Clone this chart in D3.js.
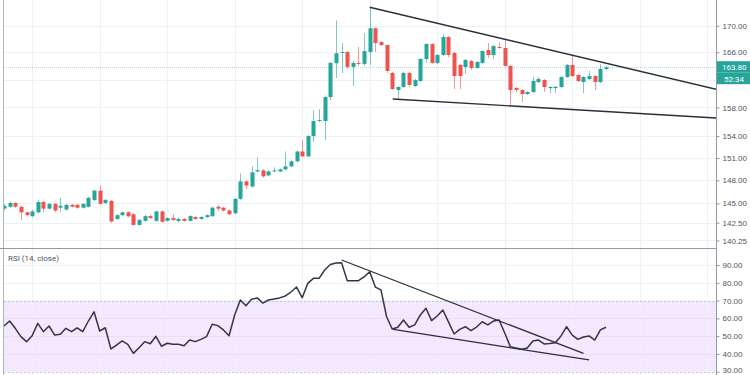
<!DOCTYPE html>
<html>
<head>
<meta charset="utf-8">
<script src="https://cdn.jsdelivr.net/npm/d3@7"></script>
<style>
  body { margin: 0; background: #fff; }
  svg { display: block; font-family: Roboto, "DejaVu Sans", sans-serif; }
  .axis text { fill: #50535e; font-size: 8px; }
  .axis line { stroke: #9598a1; }
  .axis path { display: none; }
</style>
</head>
<body>
<svg id="chart" width="750" height="375"></svg>
<script>
// candles, one per bar
const opens = [144.31,144.55,145.04,144.55,143.83,143.33,143.83,145.17,144.31,144.92,
  144.43,144.2,144.8,144.8,144.43,144.55,145.44,146.65,145.04,145.31,
  142.98,143.47,143.83,143.59,142.22,142.74,143.35,142.74,143.95,142.74,
  143.1,142.74,142.98,142.74,143.22,142.98,143.22,143.35,144.55,144.43,
  144.07,143.71,145.58,147.87,147.19,149.2,149.34,148.67,149.2,149.2,
  149.48,149.88,150.56,151.89,151.23,154.0,156.09,156.09,159.48,164.38,
  165.9,166.05,163.84,164.43,164.28,166.05,169.61,167.53,167.08,162.96,
  160.49,160.92,162.96,161.06,161.78,165.01,167.23,164.43,165.6,168.29,
  165.9,164.13,163.84,164.72,163.69,164.43,166.34,165.6,166.79,166.64,
  163.99,160.78,160.49,159.91,160.2,161.64,161.93,160.78,160.78,160.92,
  162.37,164.13,162.66,161.64,162.07,162.51,161.64,163.54];
const highs = [144.92,145.21,145.17,144.67,143.95,144.2,145.44,145.3,145.04,145.04,
  145.71,144.95,144.9,144.95,145.0,145.85,146.8,147.33,145.55,145.44,
  143.6,143.95,143.95,143.7,142.98,143.47,143.47,144.07,144.07,143.22,
  143.59,143.1,143.1,143.47,143.35,143.35,143.59,144.55,144.8,144.55,
  144.2,145.7,148.94,148.0,149.88,151.09,149.5,149.34,149.75,149.6,
  151.89,150.7,152.0,153.47,154.14,157.62,157.76,159.7,164.6,170.8,
  167.38,166.2,164.7,166.79,168.87,172.83,169.75,167.67,167.2,163.1,
  161.06,163.1,163.1,162.07,165.15,167.38,167.38,165.75,168.74,168.42,
  166.05,164.3,165.01,164.87,164.72,166.27,167.38,167.07,167.53,167.83,
  164.13,160.92,160.63,160.34,162.37,162.37,162.07,161.06,161.1,162.5,
  164.28,165.6,162.81,162.51,163.25,162.66,164.28,164.0];
const lows = [144.07,144.43,144.43,142.86,143.33,143.2,143.7,143.83,144.2,143.83,
  143.83,144.0,144.45,144.3,144.3,144.45,145.3,144.8,144.92,142.5,
  142.86,143.35,143.2,142.1,142.1,142.6,143.0,142.6,142.5,142.62,
  142.74,142.5,142.62,142.62,142.86,142.86,143.1,143.22,143.95,143.95,
  143.47,143.59,145.44,146.92,147.06,149.08,148.36,148.54,149.08,149.08,
  149.34,149.75,150.4,151.09,151.09,153.21,155.9,153.47,159.05,162.22,
  162.96,163.54,161.06,164.0,164.0,164.13,166.05,166.94,163.0,160.5,
  159.19,160.78,160.92,160.92,161.64,164.43,164.28,164.28,165.45,165.3,
  160.63,160.63,162.81,163.4,163.54,164.28,165.16,165.01,166.54,163.84,
  158.19,160.2,158.76,159.76,160.05,161.5,160.2,160.05,160.05,160.78,
  162.22,162.37,161.64,160.05,161.93,160.49,161.5,163.4];
const closes = [144.67,145.04,144.55,143.83,143.47,143.95,145.17,144.31,144.92,144.07,
  144.67,144.8,144.55,144.43,144.92,145.71,146.65,144.92,145.44,142.66,
  143.47,143.83,143.33,142.22,142.86,143.35,143.1,143.95,142.62,143.1,
  142.86,142.98,142.74,143.35,142.98,143.22,143.47,144.43,144.31,144.07,
  143.59,145.58,147.87,147.33,149.08,149.38,148.54,149.2,149.34,149.48,
  149.88,150.56,151.89,151.23,154.0,156.09,156.23,159.48,164.43,165.85,
  166.05,163.84,164.43,164.28,166.19,169.61,167.38,167.08,163.25,160.63,
  160.92,162.96,161.21,161.93,165.01,167.23,164.43,165.6,168.29,165.6,
  162.51,162.51,164.87,163.69,164.57,166.19,165.6,166.94,166.64,163.99,
  160.49,160.49,159.91,160.2,161.78,162.07,160.92,160.92,160.95,162.37,
  164.13,162.51,161.78,162.37,162.51,161.64,163.54,163.8];

// RSI (14, close), one per bar
const rsi = [55.7,58.5,54.4,49.7,46.9,50.2,57.2,52.5,55.7,50.6,
  51.0,54.4,52.5,54.7,52.5,58.5,63.7,52.9,54.7,42.8,
  45.0,47.3,45.4,40.3,43.5,46.9,45.7,49.9,44.3,46.0,
  45.4,45.4,44.6,47.8,46.9,48.2,49.7,56.7,55.9,53.5,
  50.2,61.9,70.3,67.1,70.7,71.5,68.6,70.3,70.9,71.5,
  72.6,74.8,77.6,71.6,79.7,82.5,82.5,87.2,90.3,91.1,
  91.3,81.2,81.2,81.2,83.3,86.2,77.6,76.0,60.9,54.0,
  55.0,59.1,55.0,56.3,61.9,65.7,58.7,61.3,64.7,58.0,
  51.2,53.8,55.3,53.1,55.1,58.1,56.3,58.5,59.1,51.8,
  44.1,43.3,42.6,43.3,47.3,47.8,45.6,45.9,46.3,50.1,
  55.3,50.6,48.2,49.5,50.1,47.8,53.5,55.0];

// 162.00 has a grid line but its label sits under the countdown box
const priceGrid = [140.25, 142.5, 145, 148, 151, 154, 158, 162, 166, 170];
const priceTicks = [140.25, 142.5, 145, 148, 151, 154, 158, 166, 170];
const rsiTicks = [30, 40, 50, 60, 70, 80, 90];
const gridBars = [5, 17, 29, 41, 53, 65, 77, 89, 101, 113, 125];

// drawn trend lines as [bar, value] pairs
const priceUpper = [[65, 172.83], [126.6, 160.59]];
const priceLower = [[69.1, 159.2], [126.6, 156.51]];
const rsiUpper = [[60.0, 92.8], [103.0, 40.3]];
const rsiLower = [[69.2, 53.8], [104.0, 36.6]];

const lastPrice = 163.80;
const countdown = "52:34";
const rsiTitle = "RSI (14, close)";

const up = "#26a69a", down = "#ef5350";
const left = 4, right = 716;
const priceTop = 0, priceBottom = 248, rsiTop = 249, rsiBottom = 375;

const svg = d3.select("#chart");

const x = d3.scaleLinear().domain([0, 107]).range([4, 606]);
const y = d3.scaleLog().domain([145, 166]).range([203.3, 52.3]);
const yR = d3.scaleLinear().domain([30, 90]).range([371.7, 265]);

const defs = svg.append("defs");
defs.append("clipPath").attr("id", "clipP").append("rect")
  .attr("x", left).attr("y", priceTop).attr("width", right - left).attr("height", priceBottom - priceTop);
defs.append("clipPath").attr("id", "clipR").append("rect")
  .attr("x", left).attr("y", rsiTop).attr("width", right - left).attr("height", rsiBottom - rsiTop);

// rsi band
svg.append("rect")
  .attr("x", left).attr("width", right - left)
  .attr("y", yR(70)).attr("height", yR(30) - yR(70))
  .attr("fill", "#f3e8fd");

// grids
const grid = svg.append("g").attr("stroke", "#eef1f6").attr("stroke-width", 1);
gridBars.forEach(b => {
  const gx = Math.round(x(b)) + 0.5;
  grid.append("line").attr("x1", gx).attr("x2", gx).attr("y1", priceTop).attr("y2", rsiBottom);
});
priceGrid.forEach(t => {
  const gy = Math.round(y(t)) + 0.5;
  grid.append("line").attr("x1", left).attr("x2", right).attr("y1", gy).attr("y2", gy);
});
rsiTicks.filter(t => t !== 70 && t !== 30).forEach(t => {
  const gy = Math.round(yR(t)) + 0.5;
  grid.append("line").attr("x1", left).attr("x2", right).attr("y1", gy).attr("y2", gy)
    .attr("stroke", t < 70 ? "#e9def5" : "#eef1f6");
});
[70, 30].forEach(t => {
  svg.append("line").attr("x1", left).attr("x2", right)
    .attr("y1", Math.round(yR(t)) + 0.5).attr("y2", Math.round(yR(t)) + 0.5)
    .attr("stroke", "#c9c3d6").attr("stroke-dasharray", "2,2");
});

// last price line
svg.append("line")
  .attr("x1", left).attr("x2", right)
  .attr("y1", Math.round(y(lastPrice)) + 0.5).attr("y2", Math.round(y(lastPrice)) + 0.5)
  .attr("stroke", up).attr("stroke-opacity", 0.35).attr("stroke-dasharray", "1,1");

// candles
const gp = svg.append("g").attr("clip-path", "url(#clipP)");
const bars = d3.range(closes.length);
gp.selectAll("line.wick").data(bars).join("line")
  .attr("class", "wick")
  .attr("x1", i => Math.round(x(i)) + 0.5).attr("x2", i => Math.round(x(i)) + 0.5)
  .attr("y1", i => y(highs[i])).attr("y2", i => y(lows[i]))
  .attr("stroke", i => closes[i] >= opens[i] ? up : down)
  .attr("stroke-opacity", 0.6);
gp.selectAll("rect.body").data(bars).join("rect")
  .attr("class", "body")
  .attr("x", i => Math.round(x(i)) - 1.5).attr("width", 4)
  .attr("y", i => y(Math.max(opens[i], closes[i])))
  .attr("height", i => Math.max(1, y(Math.min(opens[i], closes[i])) - y(Math.max(opens[i], closes[i]))))
  .attr("fill", i => closes[i] >= opens[i] ? up : down);

// price trend lines
const tl = d3.line().x(d => x(d[0])).y(d => y(d[1]));
[priceUpper, priceLower].forEach(seg => {
  gp.append("path").attr("d", tl(seg)).attr("fill", "none")
    .attr("stroke", "#2a2e39").attr("stroke-width", 1.4);
});

// rsi line
const gr = svg.append("g").attr("clip-path", "url(#clipR)");
gr.append("path")
  .attr("d", d3.line().x((d, i) => x(i)).y(d => yR(d))(rsi))
  .attr("fill", "none").attr("stroke", "#363447").attr("stroke-width", 1.5)
  .attr("stroke-linejoin", "round");
const rl = d3.line().x(d => x(d[0])).y(d => yR(d[1]));
[rsiUpper, rsiLower].forEach(seg => {
  gr.append("path").attr("d", rl(seg)).attr("fill", "none")
    .attr("stroke", "#2a2e39").attr("stroke-width", 1.2);
});

// frame
svg.append("line").attr("x1", left - 0.5).attr("x2", left - 0.5).attr("y1", 0).attr("y2", rsiBottom)
  .attr("stroke", "#b2b5be");
svg.append("line").attr("x1", 0).attr("x2", right).attr("y1", priceBottom + 0.5).attr("y2", priceBottom + 0.5)
  .attr("stroke", "#9598a1");
svg.append("line").attr("x1", right + 0.5).attr("x2", right + 0.5).attr("y1", 0).attr("y2", rsiBottom)
  .attr("stroke", "#9598a1");

// axes
svg.append("g").attr("class", "axis")
  .attr("transform", `translate(${right + 0.5},0)`)
  .call(d3.axisRight(y).tickValues(priceTicks).tickFormat(d3.format(".2f")).tickSize(3).tickPadding(3));
const rAxis = svg.append("g").attr("class", "axis")
  .attr("transform", `translate(${right + 0.5},0)`)
  .call(d3.axisRight(yR).tickValues(rsiTicks).tickFormat(d3.format(".2f")).tickSize(3).tickPadding(3));
// keep the bottom label inside the picture
rAxis.selectAll(".tick").filter(d => d === 30).select("text").attr("dy", "0.1em");

// price + countdown labels
const ly = y(lastPrice);
svg.append("rect").attr("x", right + 1).attr("y", ly - 6).attr("width", 33).attr("height", 11.5).attr("fill", up);
svg.append("text").attr("x", right + 6).attr("y", ly + 3).attr("fill", "#fff").attr("font-size", 8).text(lastPrice.toFixed(2));
svg.append("rect").attr("x", right + 1).attr("y", ly + 5.5).attr("width", 33).attr("height", 11.5).attr("fill", up);
svg.append("text").attr("x", right + 8).attr("y", ly + 14.5).attr("fill", "#fff").attr("font-size", 8).text(countdown);

// rsi title
svg.append("text").attr("x", 8).attr("y", 261).attr("fill", "#50535e").attr("font-size", 8).text(rsiTitle);
</script>
</body>
</html>
